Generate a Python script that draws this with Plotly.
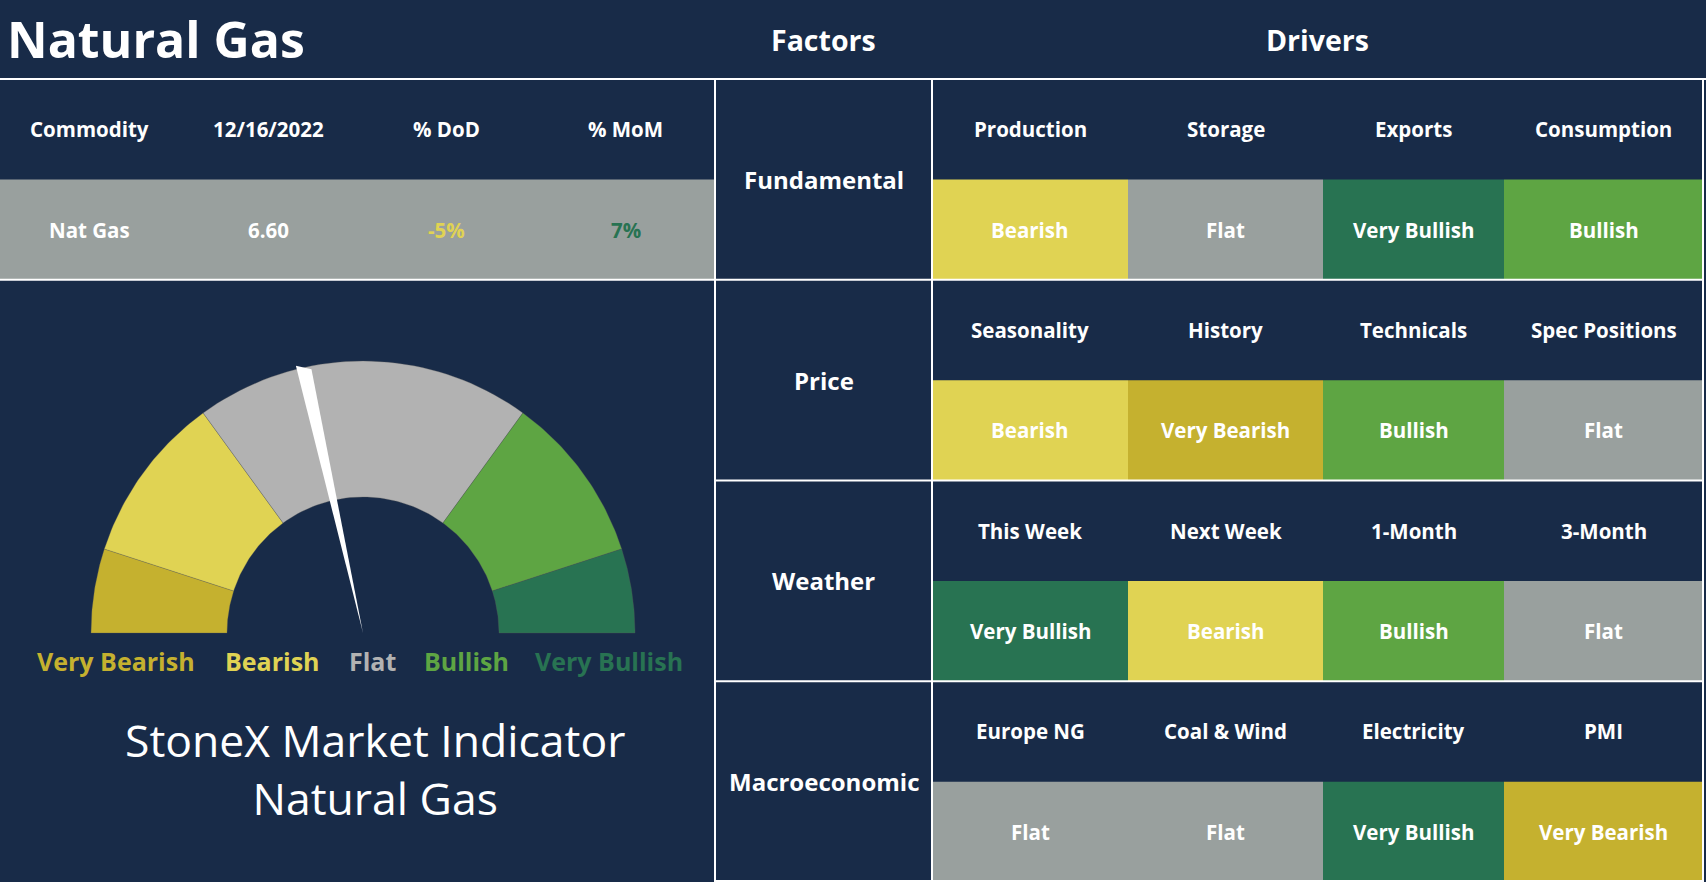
import math
import plotly.graph_objects as go

# ---- data ----
title_text = "Natural Gas"
commodity_headers = ["Commodity", "12/16/2022", "% DoD", "% MoM"]
commodity_name = "Nat Gas"
commodity_price = 6.60
pct_dod = -5
pct_mom = 7

factors = ["Fundamental", "Price", "Weather", "Macroeconomic"]
drivers = [
    ["Production", "Storage", "Exports", "Consumption"],
    ["Seasonality", "History", "Technicals", "Spec Positions"],
    ["This Week", "Next Week", "1-Month", "3-Month"],
    ["Europe NG", "Coal & Wind", "Electricity", "PMI"],
]
ratings = [
    ["Bearish", "Flat", "Very Bullish", "Bullish"],
    ["Bearish", "Very Bearish", "Bullish", "Flat"],
    ["Very Bullish", "Bearish", "Bullish", "Flat"],
    ["Flat", "Flat", "Very Bullish", "Very Bearish"],
]

gauge_levels = ["Very Bearish", "Bearish", "Flat", "Bullish", "Very Bullish"]
gauge_spans = [10, 20, 40, 20, 10]
needle_value = 43  # on the 0-100 gauge scale

# ---- styling ----
NAVY = "#182b48"
WHITE = "#ffffff"
level_colors = {
    "Very Bearish": "#c5b12f",
    "Bearish": "#e0d353",
    "Flat": "#99a09e",
    "Bullish": "#5ea543",
    "Very Bullish": "#287352",
}
gauge_colors = {**level_colors, "Flat": "#b2b2b2"}
label_colors = {**level_colors, "Flat": "#b2b2b2"}

FONT = "Open Sans"
W, H = 1706, 882
header_h = 79
row_h = (H - header_h) / 8
left_w = 715
factor_x1 = 932
driver_widths = [196, 195, 181, 199]

fig = go.Figure()
shapes = []
annotations = []


def rect(x0, y0, x1, y1, color):
    shapes.append(dict(type="rect", xref="x", yref="y", x0=x0, y0=y0, x1=x1, y1=y1,
                       fillcolor=color, line=dict(width=0), layer="below"))


def hline(y, x0, x1):
    shapes.append(dict(type="line", xref="x", yref="y", x0=x0, x1=x1, y0=y, y1=y,
                       line=dict(color=WHITE, width=2)))


def vline(x, y0, y1):
    shapes.append(dict(type="line", xref="x", yref="y", x0=x, x1=x, y0=y0, y1=y1,
                       line=dict(color=WHITE, width=2)))


def label(x, y, text, size, color=WHITE, weight="bold"):
    annotations.append(dict(x=x, y=y, xref="x", yref="y", text=text, showarrow=False,
                            xanchor="center", yanchor="middle",
                            font=dict(family=FONT, size=size, color=color, weight=weight)))


# ---- header ----
annotations.append(dict(x=5, y=header_h / 2 - 1, xref="x", yref="y", text=title_text,
                        showarrow=False, xanchor="left", yanchor="middle",
                        font=dict(family=FONT, size=50, color=WHITE, weight="bold")))
label((left_w + factor_x1) / 2, header_h / 2, "Factors", 28.5)
label((factor_x1 + sum(driver_widths) + factor_x1) / 2, header_h / 2, "Drivers", 28.5)

# ---- commodity table ----
col_w = left_w / len(commodity_headers)
rect(0, header_h + row_h, left_w, header_h + 2 * row_h, level_colors["Flat"])
commodity_values = [commodity_name, f"{commodity_price:.2f}", f"{pct_dod}%", f"{pct_mom}%"]
value_colors = [WHITE, WHITE,
                level_colors["Bearish"] if pct_dod < 0 else level_colors["Very Bullish"],
                level_colors["Very Bullish"] if pct_mom > 0 else level_colors["Bearish"]]
for i, (hdr, val, vc) in enumerate(zip(commodity_headers, commodity_values, value_colors)):
    cx = col_w * (i + 0.5)
    label(cx, header_h + row_h / 2, hdr, 20.5)
    label(cx, header_h + 1.5 * row_h, val, 20.5, vc)

# ---- factors / drivers table ----
edges = [factor_x1]
for w in driver_widths:
    edges.append(edges[-1] + w)
for g, factor in enumerate(factors):
    top = header_h + 2 * g * row_h
    label((left_w + factor_x1) / 2, top + row_h, factor, 24)
    for j in range(len(driver_widths)):
        x0, x1 = edges[j], edges[j + 1]
        rect(x0, top + row_h, x1, top + 2 * row_h, level_colors[ratings[g][j]])
        label((x0 + x1) / 2, top + row_h / 2, drivers[g][j], 20.5)
        label((x0 + x1) / 2, top + 1.5 * row_h, ratings[g][j], 20.5)

# ---- grid lines ----
hline(header_h, 0, W)
hline(header_h + 2 * row_h, 0, edges[-1])
for g in range(2, len(factors) + 1):
    hline(header_h + 2 * g * row_h - (1 if g == len(factors) else 0), left_w, edges[-1])
vline(left_w, header_h, H)
vline(factor_x1, header_h, H)
vline(edges[-1], header_h, H)

# ---- gauge ----
gcx, gcy = 363, 633
r_out, r_in = 272, 136
total = sum(gauge_spans)


def pt(r, frac):
    a = math.pi * frac
    return gcx - r * math.cos(a), gcy - r * math.sin(a)


start = 0
for lvl, span in zip(gauge_levels, gauge_spans):
    f0, f1 = start / total, (start + span) / total
    n = 40
    outer = [pt(r_out, f0 + (f1 - f0) * k / n) for k in range(n + 1)]
    inner = [pt(r_in, f1 - (f1 - f0) * k / n) for k in range(n + 1)]
    poly = outer + inner + [outer[0]]
    fig.add_trace(go.Scatter(
        x=[p[0] for p in poly], y=[p[1] for p in poly],
        mode="lines", fill="toself", fillcolor=gauge_colors[lvl],
        line=dict(width=0.6, color="rgba(90,90,90,0.5)"), hoverinfo="skip", showlegend=False))
    start += span

# needle: thin wedge from centre to the outer rim
nf = needle_value / total
ang = math.pi * nf
tip_x, tip_y = pt(r_out, nf)
px, py = math.sin(ang), math.cos(ang)
half = 8
fig.add_trace(go.Scatter(
    x=[gcx, tip_x + px * half, tip_x - px * half, gcx],
    y=[gcy, tip_y + py * half, tip_y - py * half, gcy],
    mode="lines", fill="toself", fillcolor=WHITE, line=dict(width=0, color=WHITE),
    hoverinfo="skip", showlegend=False))

# level labels under the gauge
label_x = [116, 272, 372, 466, 609]
for lvl, lx in zip(gauge_levels, label_x):
    label(lx, 661, lvl, 25, label_colors[lvl])

annotations.append(dict(x=gcx + 12, y=768, xref="x", yref="y",
                        text="StoneX Market Indicator<br>Natural Gas", showarrow=False,
                        xanchor="center", yanchor="middle", align="center",
                        font=dict(family=FONT, size=44.5, color=WHITE)))

fig.update_layout(
    width=W, height=H,
    margin=dict(l=0, r=0, t=0, b=0),
    paper_bgcolor=NAVY, plot_bgcolor=NAVY,
    xaxis=dict(range=[0, W], visible=False, fixedrange=True),
    yaxis=dict(range=[H, 0], visible=False, fixedrange=True),
    shapes=shapes, annotations=annotations,
    showlegend=False,
)

fig.write_html("out.html", config={"displayModeBar": False},
               post_script="document.body.style.margin='0';document.body.style.overflow='hidden';")
